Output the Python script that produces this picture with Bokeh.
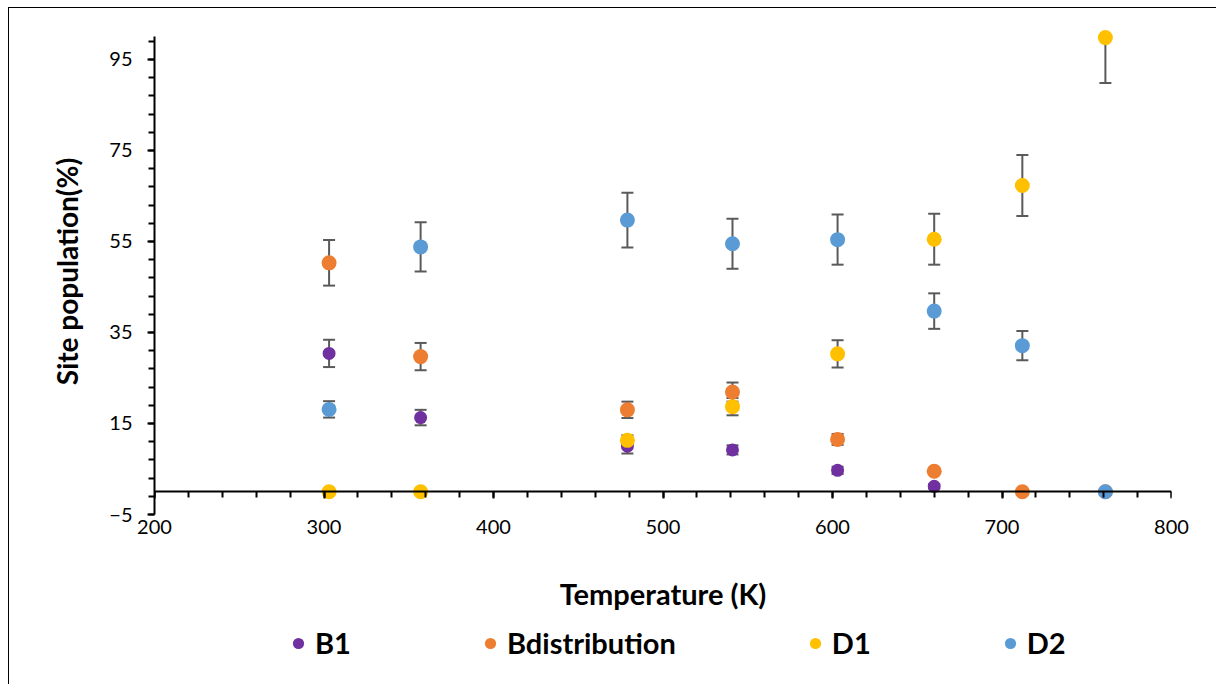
from bokeh.plotting import figure
from bokeh.layouts import column
from bokeh.models import (ColumnDataSource, FixedTicker, LinearAxis,
                          Range1d, Legend, LegendItem, CustomJSTickFormatter)
from bokeh.embed import file_html
from bokeh.resources import INLINE

# ---- data ----
temperature = [303, 357, 479, 541, 603, 660, 712, 761]

b1 = [30.4, 16.3, 10.0, 9.2, 4.7, 1.2, 0.0, 0.0]
b1_err = [3.0, 1.7, 1.6, 1.0, 0.8, 0.5, 0.0, 0.0]

bdist = [50.3, 29.7, 18.0, 21.9, 11.5, 4.5, 0.0, 0.0]
bdist_err = [5.0, 3.0, 1.8, 2.1, 1.2, 0.5, 0.0, 0.0]

d1 = [0.0, 0.0, 11.3, 18.7, 30.3, 55.5, 67.3, 99.8]
d1_err = [0.0, 0.0, 1.1, 1.9, 3.0, 5.6, 6.7, 10.0]

d2 = [18.1, 53.8, 59.7, 54.5, 55.4, 39.7, 32.1, 0.0]
d2_err = [1.8, 5.4, 6.0, 5.5, 5.5, 3.9, 3.2, 0.0]

series_names = ["B1", "Bdistribution", "D1", "D2"]
series_values = [b1, bdist, d1, d2]
series_errors = [b1_err, bdist_err, d1_err, d2_err]
series_colors = ["#7030A0", "#ED7D31", "#FFC000", "#5B9BD5"]
marker_sizes = [13, 15, 15, 15]

x_ticks = [200, 300, 400, 500, 600, 700, 800]
x_minor = list(range(200, 801, 20))
y_ticks = [-5, 15, 35, 55, 75, 95]
y_minor = list(range(-5, 101, 4))
X_MIN, X_MAX = 200, 800
Y_MIN, Y_MAX = -5, 100

FONT = "Lato"
ERR_COLOR = "#5a5a5a"

# ---------------- main chart ----------------
p = figure(frame_width=1017, frame_height=486,
           x_range=Range1d(X_MIN, X_MAX), y_range=Range1d(Y_MIN, 101.8),
           output_backend="svg", toolbar_location=None,
           min_border_left=154, min_border_right=45,
           min_border_top=28, min_border_bottom=101,
           x_axis_location=None, y_axis_location=None)
# chart-area border: only its left and top edges fall inside the picture
p.styles = {"background": "linear-gradient(#000,#000) 8px 7px / 1px 100% no-repeat, "
                          "linear-gradient(#000,#000) 8px 7px / 100% 1px no-repeat, #fff"}
p.grid.visible = False
p.outline_line_color = None
p.background_fill_color = "white"
p.border_fill_alpha = 0

# y axis
yaxis = LinearAxis(ticker=FixedTicker(ticks=y_ticks, minor_ticks=y_minor),
                   bounds=(Y_MIN, Y_MAX))
yaxis.axis_label = "Site population(%)"
yaxis.axis_label_text_font = FONT
yaxis.axis_label_text_font_style = "bold"
yaxis.axis_label_text_font_size = "28px"
yaxis.axis_label_text_color = "black"
yaxis.axis_label_standoff = 22
yaxis.major_label_text_font = FONT
yaxis.major_label_text_font_size = "20px"
yaxis.major_label_text_color = "black"
yaxis.major_label_standoff = 15
yaxis.axis_line_color = "black"
yaxis.axis_line_width = 2
yaxis.major_tick_in = 0
yaxis.major_tick_out = 7
yaxis.minor_tick_in = 0
yaxis.minor_tick_out = 6
yaxis.major_tick_line_color = "black"
yaxis.minor_tick_line_color = "black"
yaxis.major_tick_line_width = 2
yaxis.minor_tick_line_width = 2
p.add_layout(yaxis, "left")

# x axis: labels and title at the bottom
xaxis = LinearAxis(ticker=FixedTicker(ticks=x_ticks, minor_ticks=[]))
xaxis.axis_label = "Temperature (K)"
xaxis.axis_label_text_font = FONT
xaxis.axis_label_text_font_style = "bold"
xaxis.axis_label_text_font_size = "29px"
xaxis.axis_label_text_color = "black"
xaxis.axis_label_standoff = 39
xaxis.major_label_text_font = FONT
xaxis.major_label_text_font_size = "20px"
xaxis.major_label_text_color = "black"
xaxis.major_label_standoff = 5
xaxis.axis_line_color = None
xaxis.major_tick_line_color = None
xaxis.minor_tick_line_color = None
xaxis.major_tick_in = 0
xaxis.major_tick_out = 0
p.add_layout(xaxis, "below")

# x axis line crossing at y = 0
zaxis = LinearAxis(ticker=FixedTicker(ticks=x_ticks, minor_ticks=x_minor),
                   fixed_location=0, bounds=(X_MIN, X_MAX),
                   formatter=CustomJSTickFormatter(code="return ''"))
zaxis.axis_line_color = "black"
zaxis.axis_line_width = 2
zaxis.major_tick_in = 0
zaxis.major_tick_out = 7
zaxis.minor_tick_in = 0
zaxis.minor_tick_out = 6
zaxis.major_tick_line_color = "black"
zaxis.minor_tick_line_color = "black"
zaxis.major_tick_line_width = 2
zaxis.minor_tick_line_width = 2
zaxis.major_label_text_font_size = "1px"
p.add_layout(zaxis, "below")

# error bars first (drawn under the markers)
sources = []
for vals, errs in zip(series_values, series_errors):
    upper = [min(v + e, Y_MAX) for v, e in zip(vals, errs)]
    lower = [v - e for v, e in zip(vals, errs)]
    src = ColumnDataSource(dict(x=temperature, y=vals, upper=upper, lower=lower))
    sources.append(src)
    p.segment(x0="x", y0="lower", x1="x", y1="upper", source=src,
              line_color=ERR_COLOR, line_width=2)
    p.scatter("x", "upper", source=src, marker="dash", size=12,
              line_color=ERR_COLOR, line_width=2)
    p.scatter("x", "lower", source=src, marker="dash", size=12,
              line_color=ERR_COLOR, line_width=2)

for src, col, ms in zip(sources, series_colors, marker_sizes):
    p.scatter("x", "y", source=src, size=ms, fill_color=col, line_color=None)

# ---------------- legend strip below the chart ----------------
leg = figure(width=1216, height=69, x_range=Range1d(0, 1), y_range=Range1d(0, 1),
             output_backend="svg", toolbar_location=None, min_border=0,
             x_axis_location=None, y_axis_location=None)
leg.styles = {"background": "linear-gradient(#000,#000) 8px 0 / 1px 100% no-repeat, #fff"}
leg.grid.visible = False
leg.outline_line_color = None
leg.background_fill_alpha = 0
leg.border_fill_alpha = 0

items = []
for name, src, col, ms in zip(series_names, sources, series_colors, marker_sizes):
    # same series sources; their points lie outside this strip's ranges
    r = leg.scatter("x", "y", source=src, size=ms, fill_color=col, line_color=None)
    items.append(LegendItem(label=name, renderers=[r]))

# the strip's frame is aligned with the chart's plot area (starts at x = 154)
legend = Legend(items=items, orientation="horizontal", location=(130, 24),
                label_text_font=FONT, label_text_font_style="bold",
                label_text_font_size="29px", label_text_color="black",
                glyph_width=28, glyph_height=28, label_standoff=3,
                spacing=125, border_line_color=None,
                background_fill_alpha=0, margin=0, padding=0)
leg.add_layout(legend, "center")

layout = column(p, leg, spacing=0)
open("out.html", "w").write(file_html(layout, INLINE))
